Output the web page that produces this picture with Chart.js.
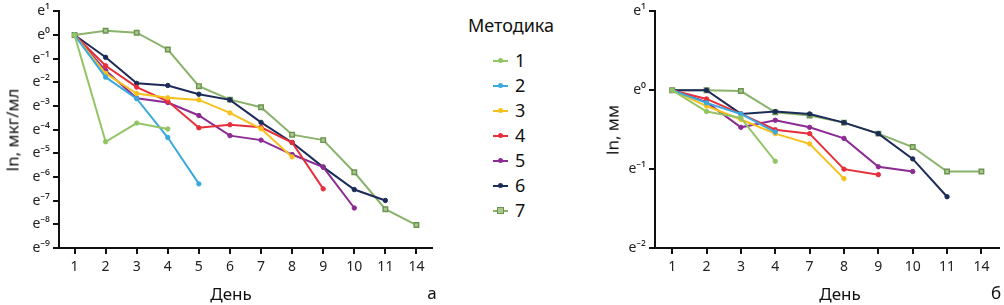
<!DOCTYPE html>
<html><head><meta charset="utf-8">
<script src="https://cdn.jsdelivr.net/npm/chart.js@4.4.1/dist/chart.umd.min.js"></script>
<style>
html,body{margin:0;padding:0;background:#fff;width:1004px;height:305px;overflow:hidden;font-family:"Noto Sans",sans-serif;color:#111}
canvas{position:absolute;top:0}
.t{position:absolute;white-space:nowrap;line-height:1}
.lg{position:absolute;left:493px;width:15px;height:2px}
.mk{position:absolute;left:5px;top:-2px;width:5px;height:5px;border-radius:50%}
.num{position:absolute;left:515px;font-size:18px;line-height:1}
</style></head>
<body>
<canvas id="cA" width="445" height="305" style="left:0"></canvas>
<canvas id="cB" width="404" height="305" style="left:600px"></canvas>
<div class="t" style="left:12px;top:130px;font-size:17px;transform:translate(-50%,-50%) rotate(-90deg)">ln, мкг/мл</div>
<div class="t" style="left:612px;top:130px;font-size:17px;transform:translate(-50%,-50%) rotate(-90deg)">ln, мм</div>
<div class="t" style="left:231px;top:293px;font-size:17px;transform:translate(-50%,-50%)">День</div>
<div class="t" style="left:840px;top:293px;font-size:17px;transform:translate(-50%,-50%)">День</div>
<div class="t" style="left:432px;top:292px;font-size:17px;transform:translate(-50%,-50%)">а</div>
<div class="t" style="left:996px;top:292px;font-size:17px;transform:translate(-50%,-50%)">б</div>
<div class="t" style="left:511px;top:25px;font-size:18px;transform:translate(-50%,-50%)">Методика</div>
<div id="legend"></div>
<script>
// ---- data ----
const daysA = ['1','2','3','4','5','6','7','8','9','10','11','14'];
const daysB = ['1','2','3','4','7','8','9','10','11','14'];
const methods = ['1','2','3','4','5','6','7'];
const colors = ['#93c464','#3aaade','#f7c01c','#e5303c','#8b2b93','#1c2b58','#89b26a'];

// left panel: ln, мкг/мл
const m1A = [0, -4.51, -3.72, -3.97];
const m2A = [0, -1.78, -2.69, -4.33, -6.29];
const m3A = [0, -1.62, -2.47, -2.65, -2.74, -3.29, -3.96, -5.15];
const m4A = [0, -1.3, -2.2, -2.8, -3.92, -3.79, -3.9, -4.54, -6.5];
const m5A = [0, -1.5, -2.67, -2.85, -3.4, -4.25, -4.44, -5.05, -5.58, -7.31];
const m6A = [0, -0.94, -2.04, -2.13, -2.5, -2.74, -3.69, -4.54, -5.58, -6.53, -6.99];
const m7A = [0, 0.18, 0.1, -0.61, -2.16, -2.73, -3.05, -4.21, -4.44, -5.8, -7.36, -8.03];

// right panel: ln, мм
const m1B = [0, -0.27, -0.35, -0.9];
const m2B = [0, -0.16, -0.30, -0.53];
const m3B = [0, -0.2, -0.37, -0.55, -0.68, -1.12];
const m4B = [0, -0.11, -0.30, -0.50, -0.55, -1.0, -1.07];
const m5B = [0, -0.15, -0.47, -0.38, -0.47, -0.61, -0.97, -1.03];
const m6B = [0, 0, -0.30, -0.27, -0.30, -0.41, -0.55, -0.87, -1.35];
const m7B = [0, 0, -0.01, -0.28, -0.32, -0.41, -0.55, -0.72, -1.03, -1.03];

const sup = {'0':'⁰','1':'¹','2':'²','3':'³','4':'⁴','5':'⁵','6':'⁶','7':'⁷','8':'⁸','9':'⁹','-':'⁻'};
const eLabel = v => 'e' + String(Math.round(v)).split('').map(c => sup[c]).join('');

function ds(series) {
  return series.map((d, i) => {
    const sq = i === 6;
    return {
      label: methods[i], data: d,
      borderColor: colors[i], borderWidth: 2, tension: 0,
      pointStyle: sq ? 'rect' : 'circle',
      pointRadius: sq ? 3.2 : 2.2,
      pointBackgroundColor: sq ? '#a8c98a' : colors[i],
      pointBorderColor: sq ? '#6a9350' : colors[i],
      pointBorderWidth: sq ? 1.4 : 1
    };
  });
}

function opts(yMin, yMax, yW, padRight) {
  const font = {family: 'Noto Sans', size: 14};
  return {
    responsive: false, animation: false, devicePixelRatio: 1,
    layout: {padding: {left: 0, top: 10, right: padRight, bottom: 0}},
    plugins: {legend: {display: false}, tooltip: {enabled: false}},
    scales: {
      x: {
        offset: true,
        grid: {display: true, drawOnChartArea: false, drawTicks: true, tickLength: 6, color: '#111', lineWidth: 2},
        border: {display: true, color: '#111', width: 2},
        ticks: {font, color: '#222', padding: 5, maxRotation: 0, autoSkip: false},
        afterFit: s => { s.height = 57; }
      },
      y: {
        min: yMin, max: yMax,
        grid: {display: true, drawOnChartArea: false, drawTicks: true, tickLength: 6, color: '#111', lineWidth: 2},
        border: {display: true, color: '#111', width: 2},
        ticks: {font, color: '#222', padding: 3, stepSize: 1, callback: v => eLabel(v)},
        afterFit: s => { s.width = yW; }
      }
    }
  };
}

new Chart(document.getElementById('cA'), {
  type: 'line',
  data: {labels: daysA, datasets: ds([m1A, m2A, m3A, m4A, m5A, m6A, m7A])},
  options: opts(-9, 1, 59, 13)
});
new Chart(document.getElementById('cB'), {
  type: 'line',
  data: {labels: daysB, datasets: ds([m1B, m2B, m3B, m4B, m5B, m6B, m7B])},
  options: opts(-2, 1, 55, 4)
});

// legend
const lg = document.getElementById('legend');
methods.forEach((m, i) => {
  const y = 61 + i * 25;
  const line = document.createElement('div');
  line.className = 'lg';
  line.style.top = (y - 1) + 'px';
  line.style.background = colors[i];
  const mk = document.createElement('div');
  mk.className = 'mk';
  if (i === 6) { mk.style.borderRadius = '0'; mk.style.background = '#a8c98a'; mk.style.border = '1px solid #6a9350'; mk.style.left = '4px'; mk.style.top = '-3px'; }
  else mk.style.background = colors[i];
  line.appendChild(mk);
  lg.appendChild(line);
  const n = document.createElement('div');
  n.className = 'num';
  n.style.top = (y - 10) + 'px';
  n.textContent = m;
  lg.appendChild(n);
});
</script>
</body></html>
